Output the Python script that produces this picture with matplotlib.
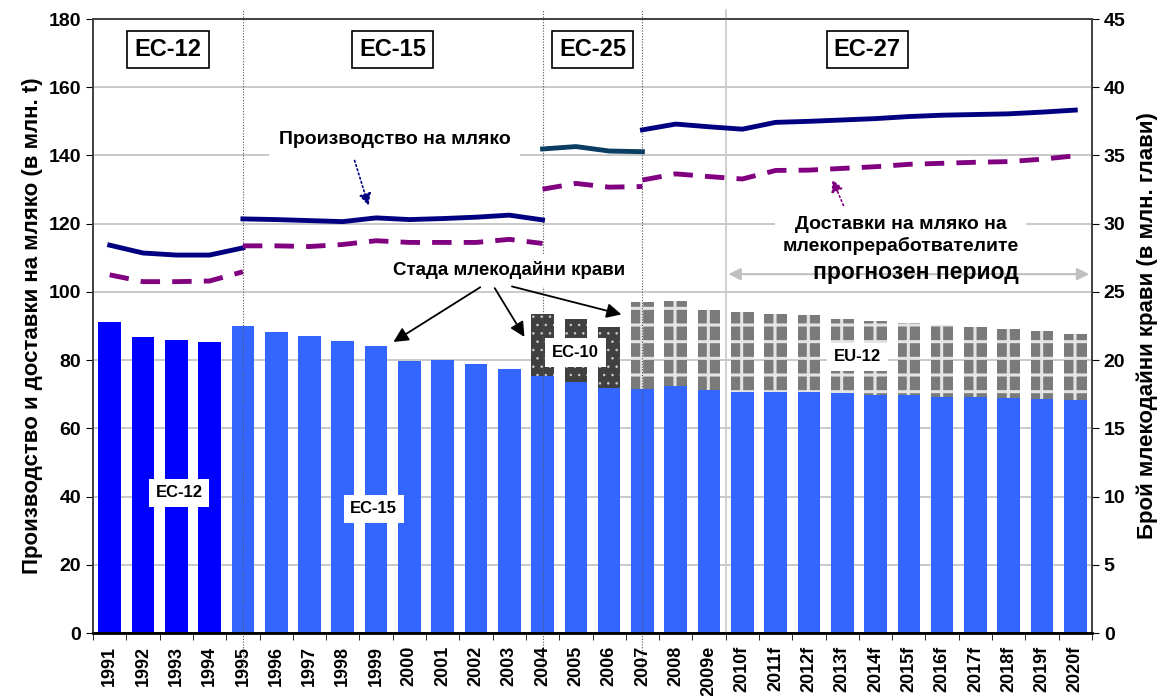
import numpy as np
import matplotlib
matplotlib.use('Agg')
import matplotlib.pyplot as plt
from matplotlib.transforms import blended_transform_factory

plt.rcParams['font.family'] = ['Liberation Sans', 'DejaVu Sans']
plt.rcParams['font.weight'] = 'bold'

years = ['1991', '1992', '1993', '1994', '1995', '1996', '1997', '1998', '1999', '2000',
         '2001', '2002', '2003', '2004', '2005', '2006', '2007', '2008', '2009e', '2010f',
         '2011f', '2012f', '2013f', '2014f', '2015f', '2016f', '2017f', '2018f', '2019f', '2020f']

# dairy cows, mln heads (right axis)
cows_base = [22.8, 21.7, 21.5, 21.3, 22.5, 22.05, 21.8, 21.4, 21.0, 19.9,
             20.0, 19.7, 19.35, 18.8, 18.4, 17.95, 17.9, 18.1, 17.8, 17.7,
             17.7, 17.65, 17.6, 17.45, 17.45, 17.3, 17.3, 17.2, 17.15, 17.1]
cows_ec10 = [23.4, 23.0, 22.4]          # totals 2004-2006 (EC-15 + EC-10)
cows_eu12 = [24.25, 24.3, 23.7, 23.5, 23.35, 23.3, 23.05, 22.85, 22.7, 22.55,
             22.4, 22.25, 22.1, 21.9]   # totals 2007-2020f (EC-15 + EU-12)

# milk production, mln t (left axis)
prod_ec12 = [113.7, 111.4, 110.8, 110.8, 112.9]                       # 1991-1995
prod_ec15 = [121.4, 121.2, 120.9, 120.6, 121.7, 121.2, 121.5, 121.9, 122.5, 121.1]  # 1995-2004
prod_ec25 = [141.9, 142.6, 141.3, 141.1]                              # 2004-2007
prod_ec27 = [147.5, 149.2, 148.4, 147.7, 149.7, 150.0, 150.4, 150.8, 151.4, 151.8,
             152.0, 152.2, 152.7, 153.3]                              # 2007-2020f

# deliveries to dairies, mln t
deliv_ec12 = [105.0, 103.0, 103.0, 103.2, 105.9]
deliv_ec15 = [113.5, 113.5, 113.3, 113.9, 115.0, 114.5, 114.5, 114.5, 115.4, 114.2]
deliv_ec25 = [130.1, 131.8, 130.7, 130.9]
deliv_ec27 = [132.8, 134.6, 133.8, 133.1, 135.6, 135.7, 136.2, 136.7, 137.4, 137.7,
              138.0, 138.2, 138.9, 139.9]

x = np.arange(len(years))

fig = plt.figure(figsize=(11.66, 6.96), dpi=100)
ax = fig.add_axes([0.0798, 0.0905, 0.8567, 0.8822])
ax2 = ax.twinx()
ax.set_zorder(ax2.get_zorder() + 1)
ax.patch.set_visible(False)
ax2.set_facecolor('#FFFFCC')

# bars
w = 0.68
base_cols = ['#0000FF'] * 4 + ['#3366FF'] * (len(years) - 4)
ax2.bar(x, cows_base, width=w, color=base_cols, zorder=2)
i10 = x[13:16]
with plt.rc_context({'hatch.linewidth': 0.6}):
    ax2.bar(i10, np.array(cows_ec10) - np.array(cows_base[13:16]), bottom=cows_base[13:16],
            width=w, facecolor='#404040', edgecolor='#cccccc', hatch='..', linewidth=0, zorder=2)
i12 = x[16:]
with plt.rc_context({'hatch.linewidth': 2.2}):
    ax2.bar(i12, np.array(cows_eu12) - np.array(cows_base[16:]), bottom=cows_base[16:],
            width=w, facecolor='#7a7a7a', edgecolor='#e4e4e4', hatch='+', linewidth=0, zorder=2)

ax2.set_ylim(0, 45)
ax2.set_yticks(np.arange(0, 46, 5))
ax2.yaxis.grid(True, color='#c0c0c0', linewidth=1.2)
ax2.set_axisbelow(True)
ax2.set_ylabel('Брой млекодайни крави (в млн. глави)', fontsize=16, fontweight='bold', labelpad=8)

# lines
navy = '#000080'
ax.plot(x[0:5], prod_ec12, color=navy, lw=3.5)
ax.plot(x[4:14], prod_ec15, color=navy, lw=3.5)
ax.plot(x[13:17], prod_ec25, color='#0A3D62', lw=3.5)
ax.plot(x[16:], prod_ec27, color=navy, lw=3.5)
for seg, xs in ((deliv_ec12, x[0:5]), (deliv_ec15, x[4:14]), (deliv_ec25, x[13:17]), (deliv_ec27, x[16:])):
    ax.plot(xs, seg, color='#800080', lw=3.5, dashes=(4, 2.5))

ax.set_xlim(-0.5, len(years) - 0.5)
ax.set_ylim(0, 180)
ax.set_yticks(np.arange(0, 181, 20))
ax.set_xticks(x)
ax.set_xticklabels(years, rotation=90, fontsize=13, fontweight='bold')
ax.set_xticks(np.arange(-0.5, len(years), 1), minor=True)
ax.tick_params(axis='x', which='major', length=0, pad=9)
ax.tick_params(axis='x', which='minor', length=5)
ax.tick_params(axis='y', labelsize=14, length=5)
ax2.tick_params(axis='y', labelsize=14, length=5)
for lab in ax.get_yticklabels() + ax2.get_yticklabels():
    lab.set_fontweight('bold')
ax.set_ylabel('Производство и доставки на мляко (в млн. t)', fontsize=16, fontweight='bold', labelpad=4)
for a in (ax, ax2):
    for s in a.spines.values():
        s.set_color('#404040')
        s.set_linewidth(1.2)
ax.spines['bottom'].set_color('black')
ax.spines['bottom'].set_linewidth(2)

# period separators
tr = blended_transform_factory(ax.transData, ax.transAxes)
for xv in (4, 13, 16):
    ax.plot([xv, xv], [-0.06, 1.015], transform=tr, color='#555555', lw=0.8, ls=(0, (1, 1.5)), clip_on=False, zorder=1)
ax.plot([18.5, 18.5], [0, 1.015], transform=tr, color='#c8c8c8', lw=1.2, clip_on=False, zorder=1)

# period boxes
box = dict(boxstyle='square,pad=0.3', facecolor='white', edgecolor='black', lw=1.2)
for txt, xv in (('ЕС-12', 1.75), ('ЕС-15', 8.5), ('ЕС-25', 14.5), ('ЕС-27', 22.75)):
    ax.text(xv, 171, txt, ha='center', va='center', fontsize=17, fontweight='bold', bbox=box)

wbox = dict(boxstyle='square,pad=0.4', facecolor='white', edgecolor='none')
ax.text(2.08, 41.1, 'ЕС-12', ha='center', va='center', fontsize=12, bbox=wbox)
ax.text(7.93, 36.4, 'ЕС-15', ha='center', va='center', fontsize=12, bbox=wbox)
ax.text(13.99, 82.2, 'ЕС-10', ha='center', va='center', fontsize=12, bbox=wbox)
ax.text(22.46, 81.0, 'EU-12', ha='center', va='center', fontsize=12, bbox=wbox)

ax.text(8.55, 144.8, 'Производство на мляко', ha='center', va='center', fontsize=14,
        bbox=dict(boxstyle='square,pad=0.5', facecolor='white', edgecolor='none'))
ax.annotate('', xy=(7.8, 124.5), xytext=(7.33, 139.3),
            arrowprops=dict(arrowstyle='-|>', color=navy, lw=1.2, ls=':', mutation_scale=18))

ax.text(12.0, 106.4, 'Стада млекодайни крави', ha='center', va='center', fontsize=13.5,
        bbox=dict(boxstyle='square,pad=0.4', facecolor='white', edgecolor='none'))
for sx, ex, ey in ((11.2, 8.45, 84.9), (11.52, 12.5, 86.1), (12.0, 15.45, 93.2)):
    ax.annotate('', xy=(ex, ey), xytext=(sx, 101.8),
                arrowprops=dict(arrowstyle='-|>', color='black', lw=1.3, mutation_scale=22))

ax.text(23.75, 116.5, 'Доставки на мляко на\nмлекопреработвателите', ha='center', va='center',
        fontsize=14, linespacing=1.25,
        bbox=dict(boxstyle='square,pad=0.4', facecolor='white', edgecolor='none'))
ax.annotate('', xy=(21.67, 133.7), xytext=(22.07, 124.6),
            arrowprops=dict(arrowstyle='-|>', color='#800080', lw=1.2, ls=':', mutation_scale=18))

ax.annotate('', xy=(29.5, 105.2), xytext=(18.5, 105.2),
            arrowprops=dict(arrowstyle='<|-|>', color='#c0c0c0', lw=1.5, mutation_scale=18))
ax.text(24.2, 105.6, 'прогнозен период', ha='center', va='center', fontsize=16.5, fontweight='bold')

fig.savefig('out.png', dpi=100)
